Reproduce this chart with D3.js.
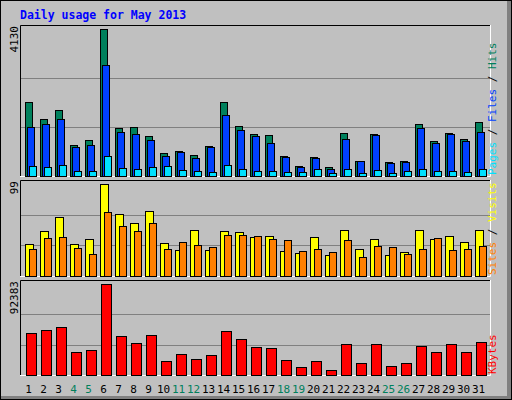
<!DOCTYPE html>
<html><head><meta charset="utf-8">
<script src="https://cdn.jsdelivr.net/npm/d3@7"></script>
<style>body{margin:0;background:#fff}text{font-family:"DejaVu Sans Mono",monospace}</style>
</head><body><svg id="svg" width="512" height="400"></svg>
<script>
var days = d3.range(1, 32);
var weekend = [4, 5, 11, 12, 18, 19, 25, 26];
var hits = [2084,1588,1841,878,1018,4130,1355,1383,1131,654,710,598,850,2084,1411,1187,1159,570,290,542,262,1215,430,1187,402,430,1467,991,1215,1047,1523];
var files = [1383,1467,1588,822,878,3130,1243,1187,1018,570,682,514,822,1719,1299,1131,934,542,262,514,206,1047,430,1159,374,402,1355,934,1187,991,1243];
var pages = [271,243,299,131,131,551,215,187,243,271,159,131,103,299,187,131,131,103,103,187,75,187,75,159,75,131,187,131,131,103,187];
var visits = [34,48,63,34,40,99,67,57,70,36,28,49,28,48,47,42,43,27,25,42,23,49,29,40,23,26,49,40,43,37,49];
var sites = [29,41,42,30,24,69,54,48,57,29,37,33,31,44,44,43,40,39,27,29,26,39,20,32,31,24,29,41,28,29,32];
var kbytes = [42820,45850,48890,23600,25620,92383,39790,32700,40800,14500,21580,16520,20570,44840,36750,28660,27650,15510,8430,14500,5390,31690,12470,31690,9440,12470,29670,23600,31690,23600,33720];

var $svg = d3.select('#svg');
$svg.append('rect').attr('width', 512).attr('height', 400).attr('fill', '#c0c0c0');
$svg.append('rect').attr('x', 507).attr('y', 0).attr('width', 5).attr('height', 400).attr('fill', '#808080');
$svg.append('rect').attr('x', 0).attr('y', 396).attr('width', 512).attr('height', 4).attr('fill', '#808080');
$svg.append('rect').attr('x', 0.5).attr('y', 0.5).attr('width', 511).attr('height', 399)
    .attr('fill', 'none').attr('stroke', '#000');

$svg.append('text').attr('x', 20).attr('y', 19).attr('fill', '#0000ff')
    .attr('font-weight', 'bold').attr('font-size', 11.5).text('Daily usage for May 2013');

var x = d3.scaleBand().domain(days).range([20, 485]).paddingInner(0);

var panels = [
    {top: 25, bot: 177, max: 4130, label: '4130',
     series: [[hits, '#00805c', 0, 7], [files, '#0040ff', 2, 7], [pages, '#00e0ff', 4, 7]],
     names: [['Pages', '#00e0ff'], ['Files', '#0040ff'], ['Hits', '#00805c']]},
    {top: 180, bot: 277, max: 99, label: '99',
     series: [[visits, '#ffff00', 0, 8], [sites, '#ff8000', 4, 7]],
     names: [['Sites', '#ff8000'], ['Visits', '#ffff00']]},
    {top: 280, bot: 376, max: 92383, label: '92383',
     series: [[kbytes, '#ff0000', 1, 10]],
     names: [['KBytes', '#ff0000']]}
];

panels.forEach(function (p) {
    var y = d3.scaleLinear().domain([0, p.max]).range([p.bot - 1, p.top + 4]);
    var $g = $svg.append('g');
    $g.append('rect').attr('x', 20).attr('y', p.top).attr('width', 471).attr('height', p.bot - p.top)
        .attr('fill', '#c0c0c0');
    [1 / 3, 2 / 3].forEach(function (f) {
        $g.append('line').attr('x1', 21).attr('x2', 490)
            .attr('y1', Math.round(y(p.max * f)) + 0.5).attr('y2', Math.round(y(p.max * f)) + 0.5)
            .attr('stroke', '#808080');
    });
    // 3D frame
    $g.append('path').attr('d', 'M20.5,' + (p.bot) + 'V' + (p.top + 0.5) + 'H491')
        .attr('fill', 'none').attr('stroke', '#000');
    $g.append('path').attr('d', 'M20,' + (p.bot - 0.5) + 'H490.5V' + p.top)
        .attr('fill', 'none').attr('stroke', '#fff');

    p.series.forEach(function (s) {
        $g.selectAll(null).data(s[0]).enter().append('rect')
            .attr('x', function (d, i) { return x(days[i]) + 5 + s[2] + 0.5; })
            .attr('y', function (d) { return Math.round(y(d)) + 0.5; })
            .attr('width', s[3])
            .attr('height', function (d) { return p.bot - 1 - Math.round(y(d)); })
            .attr('fill', s[1]).attr('stroke', '#000');
    });

    $g.append('text').attr('transform', 'translate(18,' + (p.top + 1) + ') rotate(-90)')
        .attr('text-anchor', 'end').attr('font-size', 11).attr('fill', '#000').text(p.label);

    var $t = $g.append('text').attr('transform', 'translate(496,' + (p.bot - 2) + ') rotate(-90)')
        .attr('font-size', 11);
    p.names.forEach(function (n, i) {
        if (i > 0) $t.append('tspan').attr('fill', '#000').text(' / ');
        $t.append('tspan').attr('fill', n[1]).text(n[0]);
    });
});

$svg.selectAll('.day').data(days).enter().append('text')
    .attr('x', function (d) { return x(d) + x.bandwidth() / 2 + 1; })
    .attr('y', 393).attr('text-anchor', 'middle').attr('font-size', 11)
    .attr('fill', function (d) { return weekend.indexOf(d) >= 0 ? '#00805c' : '#000'; })
    .text(function (d) { return d; });
</script></body></html>
